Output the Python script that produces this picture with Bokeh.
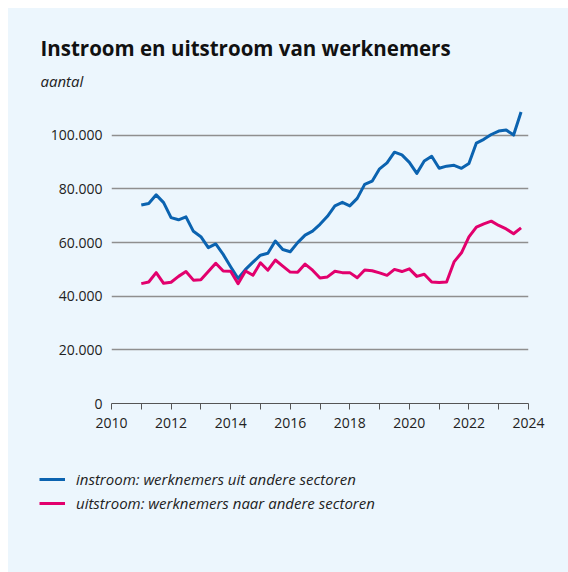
from bokeh.plotting import figure
from bokeh.layouts import column
from bokeh.models import (ColumnDataSource, FixedTicker, Title, Legend, LegendItem, Range1d)
from bokeh.embed import file_html
from bokeh.resources import INLINE

# ---- data -------------------------------------------------------------
jaren = list(range(2011, 2024))
kwartalen = [j + (k - 1) / 4 for j in jaren for k in (1, 2, 3, 4)]

instroom = [74000, 74600, 77800, 74900, 69300, 68500, 69600, 64200, 62200, 58100,
            59500, 55600, 51000, 46600, 50000, 52700, 55300, 56000, 60600, 57400,
            56600, 60000, 62800, 64300, 66800, 69800, 73700, 75000, 73700, 76500,
            81700, 82900, 87500, 89700, 93700, 92700, 89900, 85800, 90400, 92200,
            87700, 88500, 88800, 87700, 89500, 97100, 98500, 100300, 101600, 102000,
            100100, 108700]

uitstroom = [44700, 45300, 48800, 44800, 45200, 47400, 49200, 46000, 46100, 49200,
             52300, 49400, 49300, 44700, 49400, 47800, 52500, 49700, 53500, 51200,
             49000, 48900, 52000, 49700, 46800, 47200, 49300, 48800, 48800, 46900,
             49800, 49500, 48700, 47800, 50000, 49200, 50200, 47400, 48200, 45300,
             45100, 45300, 52800, 56200, 62100, 65800, 67000, 68000, 66400, 65100,
             63300, 65500]

y_ticks = [0, 20000, 40000, 60000, 80000, 100000]
y_tick_labels = ["0", "20.000", "40.000", "60.000", "80.000", "100.000"]
x_ticks = [2010, 2012, 2014, 2016, 2018, 2020, 2022, 2024]
x_minor_ticks = [2011, 2013, 2015, 2017, 2019, 2021, 2023]

titel = "Instroom en uitstroom van werknemers"
eenheid = "aantal"
reeks_namen = ["instroom: werknemers uit andere sectoren",
               "uitstroom: werknemers naar andere sectoren"]

BLUE = "#0b63b0"
PINK = "#e2006d"
BG = "#ecf6fd"
FONT = "Open Sans"

src = ColumnDataSource(dict(x=kwartalen, instroom=instroom, uitstroom=uitstroom))

# ---- main chart ------------------------------------------------------------
p = figure(width=560, height=440, frame_width=417, frame_height=295,
           min_border_left=103, min_border_right=40, min_border_top=100,
           min_border_bottom=45,
           x_range=Range1d(2010, 2024), y_range=Range1d(0, 110000),
           output_backend="svg", toolbar_location=None)

p.background_fill_color = BG
p.border_fill_color = BG
p.outline_line_color = None

p.line("x", "instroom", source=src, line_color=BLUE, line_width=3,
       line_join="round")
p.line("x", "uitstroom", source=src, line_color=PINK, line_width=3,
       line_join="round")

t_unit = Title(text=eenheid, align="left", offset=-71, text_font=FONT,
               text_font_style="italic", text_font_size="15px",
               text_color="#222222", standoff=35)
t_main = Title(text=titel, align="left", offset=-71, text_font=FONT,
               text_font_style="bold", text_font_size="20.5px",
               text_color="#111111", standoff=-20)
p.add_layout(t_unit, "above")
p.add_layout(t_main, "above")

p.yaxis.ticker = FixedTicker(ticks=y_ticks)
p.yaxis.major_label_overrides = {v: s for v, s in zip(y_ticks, y_tick_labels)}
p.yaxis.axis_line_color = None
p.yaxis.major_tick_line_color = None
p.yaxis.minor_tick_line_color = None
p.yaxis.major_tick_in = 0
p.yaxis.major_tick_out = 0
p.yaxis.major_label_standoff = 9
p.yaxis.major_label_text_font = FONT
p.yaxis.major_label_text_font_size = "14px"
p.yaxis.major_label_text_color = "#222222"

p.xaxis.ticker = FixedTicker(ticks=x_ticks, minor_ticks=x_minor_ticks)
p.xaxis.axis_line_color = "#555555"
p.xaxis.major_tick_line_color = "#555555"
p.xaxis.minor_tick_line_color = "#555555"
p.xaxis.major_tick_in = 0
p.xaxis.major_tick_out = 6
p.xaxis.minor_tick_in = 0
p.xaxis.minor_tick_out = 6
p.xaxis.major_label_standoff = 8
p.xaxis.major_label_text_font = FONT
p.xaxis.major_label_text_font_size = "14px"
p.xaxis.major_label_text_color = "#222222"

p.xgrid.grid_line_color = None
p.ygrid.ticker = FixedTicker(ticks=y_ticks[1:])
p.ygrid.grid_line_color = "#8f8f8f"
p.ygrid.grid_line_width = 1.5

# ---- legend strip (same series; the data lie outside its ranges) ----------
lg = figure(width=560, height=124, min_border=0,
            x_axis_type=None, y_axis_type=None,
            x_range=Range1d(0, 1), y_range=Range1d(0, 1),
            output_backend="svg", toolbar_location=None)
lg.frame_align = False
lg.background_fill_color = BG
lg.border_fill_color = BG
lg.outline_line_color = None
lg.xgrid.visible = False
lg.ygrid.visible = False

l1 = lg.line("x", "instroom", source=src, line_color=BLUE, line_width=3)
l2 = lg.line("x", "uitstroom", source=src, line_color=PINK, line_width=3)

legend = Legend(items=[LegendItem(label=reeks_namen[0], renderers=[l1]),
                       LegendItem(label=reeks_namen[1], renderers=[l2])],
                location=(31, 59), orientation="vertical",
                margin=0, padding=0, spacing=4,
                glyph_width=26, glyph_height=20, label_height=20,
                label_standoff=11,
                label_text_font=FONT, label_text_font_style="italic",
                label_text_font_size="15px", label_text_color="#222222",
                background_fill_alpha=0, border_line_alpha=0)
lg.add_layout(legend)

layout = column(p, lg, spacing=0)
layout.margin = (8, 0, 0, 8)
layout.styles = {"background-color": BG}

open("out.html", "w").write(file_html(layout, INLINE))
